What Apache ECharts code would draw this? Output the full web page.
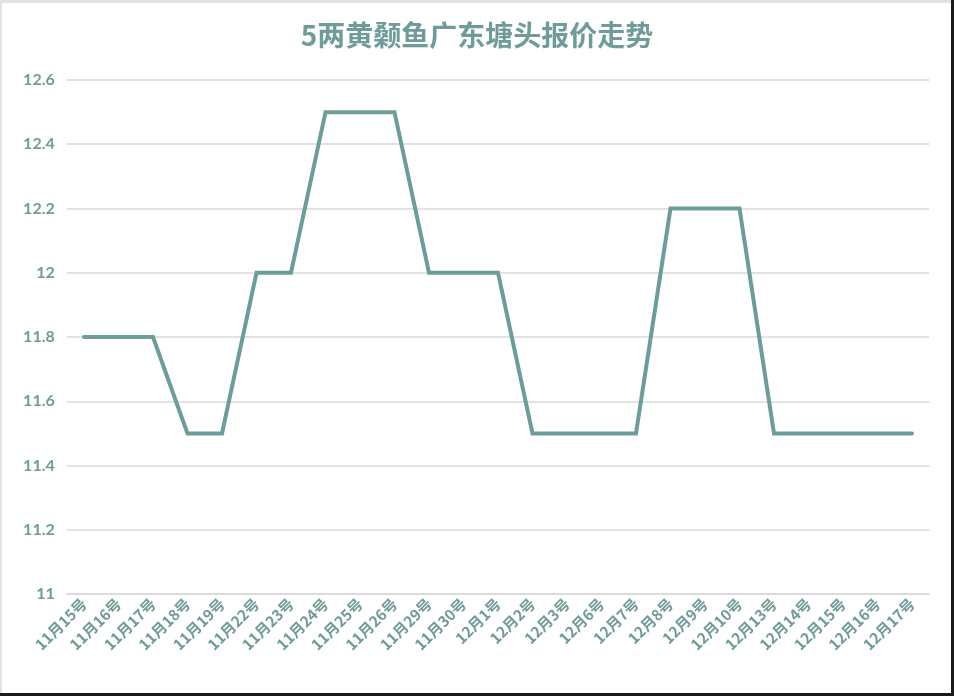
<!DOCTYPE html>
<html>
<head>
<meta charset="utf-8">
<script src="https://cdn.jsdelivr.net/npm/echarts@6/dist/echarts.min.js"></script>
<style>
html,body{margin:0;padding:0;background:#fff;}
#c{width:954px;height:696px;}
</style>
</head>
<body>
<div id="c"></div>
<script>
const titleText = '5两黄颡鱼广东塘头报价走势';
const categories = ['11月15号','11月16号','11月17号','11月18号','11月19号','11月22号','11月23号','11月24号','11月25号','11月26号','11月29号','11月30号','12月1号','12月2号','12月3号','12月6号','12月7号','12月8号','12月9号','12月10号','12月13号','12月14号','12月15号','12月16号','12月17号'];
const prices = [11.8,11.8,11.8,11.5,11.5,12,12,12.5,12.5,12.5,12,12,12,11.5,11.5,11.5,11.5,12.2,12.2,12.2,11.5,11.5,11.5,11.5,11.5];
const yMin = 11, yMax = 12.6, yStep = 0.2;

const teal = '#6b9e9a';
const txt = '#6f9c99';
const chart = echarts.init(document.getElementById('c'), null, {renderer:'canvas'});
chart.setOption({
  backgroundColor:'#fff',
  animation:false,
  title:{
    text:titleText, left:'center', top:16,
    textStyle:{fontFamily:'Noto Sans CJK SC', fontWeight:'bold', fontSize:28, color:txt}
  },
  grid:{left:66.75, right:24.75, top:80, bottom:102, containLabel:false},
  xAxis:{
    type:'category', data:categories, boundaryGap:true,
    axisLine:{show:true, lineStyle:{color:'#d9d9d9', width:1.5}},
    axisTick:{show:false},
    axisLabel:{rotate:45, interval:0, margin:7, color:txt, fontWeight:'bold', fontSize:15, fontFamily:'Noto Sans CJK SC'}
  },
  yAxis:{
    type:'value', min:yMin, max:yMax, interval:yStep,
    axisLine:{show:false}, axisTick:{show:false},
    axisLabel:{margin:12, color:txt, fontWeight:'bold', fontSize:16, fontFamily:'Lato',
      formatter:v=>String(Math.round(v*10)/10)},
    splitLine:{lineStyle:{color:'#d9d9d9', width:1.5}}
  },
  series:[{
    type:'line', data:prices, symbol:'none',
    lineStyle:{color:teal, width:4, cap:'round', join:'miter'}
  }],
  graphic:[
    {type:'rect', shape:{x:0,y:0,width:954,height:3}, style:{fill:'#e2e2e2'}, silent:true},
    {type:'rect', shape:{x:0,y:0,width:2,height:696}, style:{fill:'#e2e2e2'}, silent:true},
    {type:'rect', shape:{x:951,y:0,width:3,height:696}, style:{fill:'#1a1a1a'}, silent:true},
    {type:'rect', shape:{x:0,y:693,width:954,height:3}, style:{fill:'#1a1a1a'}, silent:true}
  ]
});
</script>
</body>
</html>
